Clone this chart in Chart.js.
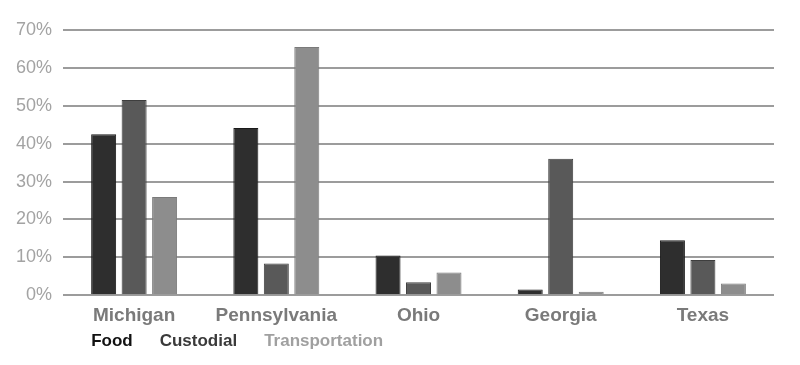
<!DOCTYPE html>
<html>
<head>
<meta charset="utf-8">
<script src="https://cdn.jsdelivr.net/npm/chart.js@4/dist/chart.umd.min.js"></script>
<style>
  html, body { margin: 0; padding: 0; background: #fff; }
  #wrap { width: 800px; height: 365px; }
</style>
</head>
<body>
<div id="wrap"><canvas id="chart"></canvas></div>
<script>
var states = ['Michigan', 'Pennsylvania', 'Ohio', 'Georgia', 'Texas'];
var seriesNames = ['Food', 'Custodial', 'Transportation'];
var food = [42.5, 44.1, 10.5, 1.5, 14.5];
var custodial = [51.5, 8.4, 3.4, 36.0, 9.3];
var transportation = [25.9, 65.5, 6.0, 0.9, 3.1];
var yTicks = [0, 10, 20, 30, 40, 50, 60, 70];

var fills = ['#2e2e2e', '#595959', '#8d8d8d'];
var borders = ['#1a1a1a', '#3e3e3e', '#7a7a7a'];
var legendColors = ['#111111', '#3a3a3a', '#a0a0a0'];
var font = '"Liberation Sans", Arial, Helvetica, sans-serif';

// legend drawn as plain coloured words under the axis, starting at the first bar
var textLegend = {
    id: 'textLegend',
    afterDraw: function (chart) {
        var ctx = chart.ctx;
        var first = chart.getDatasetMeta(0).data[0];
        var x = first.x - first.width / 2;
        var y = 341;
        ctx.save();
        ctx.font = 'bold 17px ' + font;
        ctx.textBaseline = 'middle';
        ctx.textAlign = 'left';
        for (var i = 0; i < seriesNames.length; i++) {
            ctx.fillStyle = legendColors[i];
            ctx.fillText(seriesNames[i], x, y);
            x += ctx.measureText(seriesNames[i]).width + 27;
        }
        ctx.restore();
    }
};

var values = [food, custodial, transportation];
var datasets = [];
for (var i = 0; i < seriesNames.length; i++) {
    datasets.push({
        label: seriesNames[i],
        data: values[i],
        backgroundColor: fills[i],
        borderColor: borders[i],
        borderWidth: 1,
        categoryPercentage: 0.643,
        barPercentage: 0.82
    });
}

new Chart(document.getElementById('chart'), {
    type: 'bar',
    data: { labels: states, datasets: datasets },
    options: {
        responsive: true,
        maintainAspectRatio: false,
        animation: false,
        layout: { padding: { left: 5, right: 26, top: 30, bottom: 37 } },
        plugins: {
            legend: { display: false },
            tooltip: { enabled: false }
        },
        scales: {
            x: {
                grid: { display: false },
                border: { display: false },
                ticks: {
                    color: '#7a7a7a',
                    padding: 1,
                    font: { family: font, size: 19, weight: 'bold' }
                }
            },
            y: {
                min: 0,
                max: 70,
                afterBuildTicks: function (axis) {
                    axis.ticks = yTicks.map(function (v) { return { value: v }; });
                },
                grid: { color: '#9c9c9c', lineWidth: 2, drawTicks: false },
                border: { display: false },
                ticks: {
                    color: '#a3a3a3',
                    padding: 11,
                    font: { family: font, size: 18 },
                    callback: function (v) { return v + '%'; }
                }
            }
        }
    },
    plugins: [textLegend]
});
</script>
</body>
</html>
